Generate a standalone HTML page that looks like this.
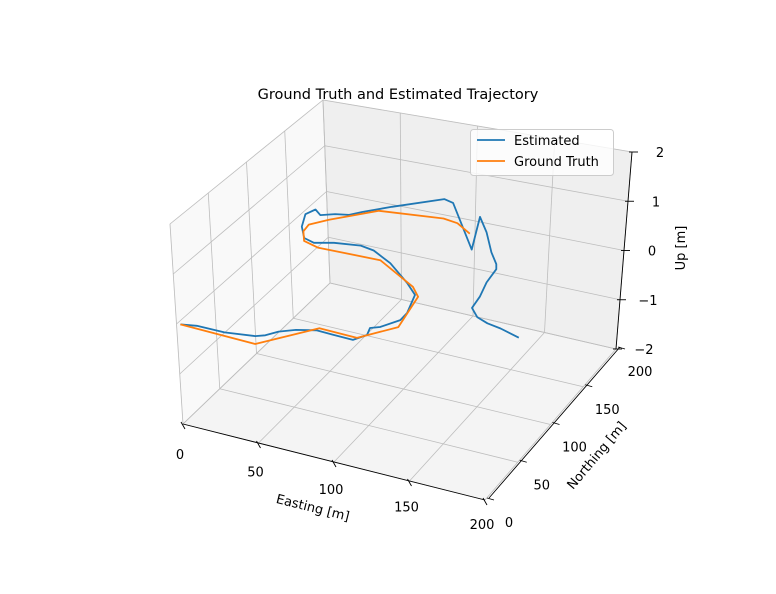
<!DOCTYPE html>
<html><head><meta charset="utf-8"><style>
html,body{margin:0;padding:0;background:#fff}
svg text{font-family:"DejaVu Sans","Liberation Sans",sans-serif;fill:#000}
</style></head><body>
<svg id="chart" width="776" height="589" viewBox="0 0 776 589" xmlns="http://www.w3.org/2000/svg">
<rect width="776" height="589" fill="#fff"/>
<text x="398" y="99" font-size="14.5" text-anchor="middle">Ground Truth and Estimated Trajectory</text>
<g id="panes"></g>
<g id="grid"></g>
<g id="axes"></g>
<g id="series"></g>
<g>
<rect x="470.5" y="129.5" width="143" height="46" rx="3" fill="#fff" fill-opacity="0.8" stroke="#ccc"/>
<line x1="477" y1="140" x2="505" y2="140" stroke="#1f77b4" stroke-width="1.8"/>
<text x="514" y="145" font-size="13">Estimated</text>
<line x1="477" y1="161" x2="505" y2="161" stroke="#ff7f0e" stroke-width="1.8"/>
<text x="514" y="166" font-size="13">Ground Truth</text>
</g>
</svg>
<script>
const eTicks=[0,50,100,150,200];
const nTicks=[0,50,100,150,200];
const uTicks=[-2,-1,0,1,2];
const eTickLabels=["0","50","100","150","200"];
const nTickLabels=["0","50","100","150","200"];
const uTickLabels=["\u22122","\u22121","0","1","2"];
const gtE=[2.2,51.2,75.7,100.5,116.5,110.8,102.6,70.1,29.2,17.9,11.8,10.7,18.7,40.6,80.9,91.3,104.2];
const gtN=[0.6,-1.8,34.1,32.9,56.3,96.6,107.0,130.2,129.5,134.1,145.5,155.0,165.9,189.2,195.4,193.2,183.6];
const gtU=[0,0,0,0,0,0,0,0,0,0,0,0,0,0,0,0,0];
const estE=[2.2,11.3,29.1,46.8,51.6,56.4,64.4,75.2,86.0,99.4,104.2,102.0,106.8,113.8,113.6,108.1,97.2,77.2,61.0,51.2,35.1,24.3,16.2,8.1,2.5,5.1,11.1,18.6,26.7,32.1,45.4,70.0,77.1,114.1,100.3,112.8,126.5,135.7,138.4,140.2,144.1,145.8,153.4,162.1,171.9,186.4];
const estN=[0.6,3.6,3.4,7.5,11.2,19.2,25.9,31.0,30.3,29.6,39.0,47.9,51.7,65.0,75.0,98.1,110.2,129.2,140.1,142.7,139.3,134.2,137.6,150.8,166.9,175.2,169.5,174.5,176.9,183.7,197.2,218.9,216.5,165.3,206.0,189.1,166.9,154.2,148.3,130.5,112.3,97.4,88.1,83.6,81.0,75.1];
const estU=[0,0,0,0,0,0,0,0,0,0,0,0,0,0,0,0,0,0,0,0,0,0,0,0,0,0,0,0,0,0,0,0,0,0,0,0,0,0,0,0,0,0,0,0,0,0];

// projection: trilinear interpolation between box corners
const C={b00:[183,424],b10:[485,500],b11:[616,349],b01:[330,283],t00:[170,224],t10:[493,295],t11:[632,152],t01:[323,100]};
function lerp(a,b,t){return [a[0]+(b[0]-a[0])*t,a[1]+(b[1]-a[1])*t];}
function P(e,n,u){
  const a=e/200,b=n/200,c=(u+2)/4;
  const bot=lerp(lerp(C.b00,C.b10,a),lerp(C.b01,C.b11,a),b);
  const top=lerp(lerp(C.t00,C.t10,a),lerp(C.t01,C.t11,a),b);
  return lerp(bot,top,c);
}
const NS="http://www.w3.org/2000/svg";
function el(tag,attrs,parent){const x=document.createElementNS(NS,tag);for(const k in attrs)x.setAttribute(k,attrs[k]);parent.appendChild(x);return x;}
function poly(pts){return pts.map(p=>p[0].toFixed(1)+','+p[1].toFixed(1)).join(' ');}

const panes=document.getElementById('panes');
let p=el('polygon',{points:poly([P(0,0,-2),P(0,200,-2),P(0,200,2),P(0,0,2)]),fill:'#f9f9f9',stroke:'#f0f0f0'},panes);


p=el('polygon',{points:poly([P(0,200,-2),P(200,200,-2),P(200,200,2),P(0,200,2)]),fill:'#efefef',stroke:'#e8e8e8'},panes);


p=el('polygon',{points:poly([P(0,0,-2),P(200,0,-2),P(200,200,-2),P(0,200,-2)]),fill:'#f4f4f4',stroke:'#ececec'},panes);



const grid=document.getElementById('grid');
function gl(a,b,name){const l=el('line',{x1:a[0],y1:a[1],x2:b[0],y2:b[1],stroke:'#bdbdbd','stroke-width':0.8},grid);

}
eTicks.forEach(e=>{gl(P(e,0,-2),P(e,200,-2),'grid-easting');gl(P(e,200,-2),P(e,200,2),'grid-easting-back');});
nTicks.forEach(n=>{gl(P(0,n,-2),P(200,n,-2),'grid-northing');gl(P(0,n,-2),P(0,n,2),'grid-northing-left');});
uTicks.forEach(u=>{gl(P(0,200,u),P(200,200,u),'grid-up-back');gl(P(0,0,u),P(0,200,u),'grid-up-left');});

const axes=document.getElementById('axes');
function al(a,b,name){const l=el('line',{x1:a[0],y1:a[1],x2:b[0],y2:b[1],stroke:'#000','stroke-width':0.9},axes);

}
function tx(x,y,s,name,extra){const t=el('text',Object.assign({x:x,y:y,'font-size':13,'text-anchor':'middle'},extra||{}),axes);t.textContent=s;

return t;}
al(P(0,0,-2),P(200,0,-2),'easting-axis-line');
eTicks.forEach((e,i)=>{const q=P(e,0,-2);al([q[0]-2,q[1]-2],[q[0]+2,q[1]+5],'easting-tick');
tx(q[0]-3,q[1]+35-i*1.5,eTickLabels[i],'easting-tick-label');});
tx(313,512,'Easting [m]','easting-axis-title',{transform:'rotate(14 313 507)'});
al([P(200,0,-2)[0]+4,P(200,0,-2)[1]-2],[P(200,200,-2)[0]+4,P(200,200,-2)[1]-2],'northing-axis-line');
nTicks.forEach((n,i)=>{const q=P(200,n,-2);al([q[0]+2,q[1]-2],[q[0]+9,q[1]],'northing-tick');
tx(q[0]+24,q[1]+27,nTickLabels[i],'northing-tick-label');});
tx(596,460,'Northing [m]','northing-axis-title',{transform:'rotate(-50 596 455)'});
al(P(200,200,-2),P(200,200,2),'up-axis-line');
uTicks.forEach((u,i)=>{const q=P(200,200,u);al([q[0]-3,q[1]],[q[0]+6,q[1]],'up-tick');
tx(q[0]+28,q[1]+5,uTickLabels[i],'up-tick-label');});
tx(690,253,'Up [m]','up-axis-title',{transform:'rotate(-90 685 253)'});

const series=document.getElementById('series');
function path(E,N,U,color,name){const d=E.map((e,i)=>{const q=P(e,N[i],U[i]);return (i?'L':'M')+q[0].toFixed(1)+' '+q[1].toFixed(1);}).join(' ');
const s=el('path',{d:d,fill:'none',stroke:color,'stroke-width':1.8,'stroke-linejoin':'round'},series);

}
path(estE,estN,estU,'#1f77b4','estimated-line');
path(gtE,gtN,gtU,'#ff7f0e','ground-truth-line');
</script>
</body></html>
